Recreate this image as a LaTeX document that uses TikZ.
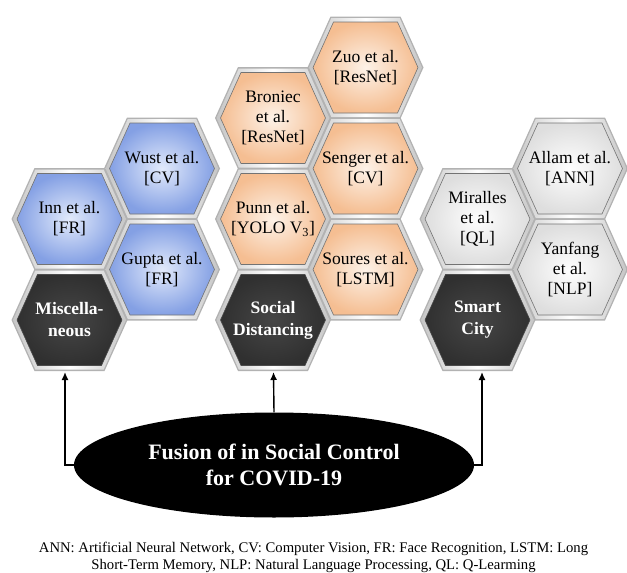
\documentclass[tikz,border=0pt]{standalone}
\usepackage{fontspec}
\setmainfont{Liberation Serif}
\usetikzlibrary{arrows.meta,shapes.geometric}
\definecolor{blueedge}{RGB}{132,160,228}
\definecolor{bluecenter}{RGB}{226,234,251}
\definecolor{orangeedge}{RGB}{245,190,146}
\definecolor{orangecenter}{RGB}{253,242,232}
\definecolor{whiteedge}{RGB}{222,222,222}
\definecolor{whitecenter}{RGB}{254,254,254}
\definecolor{darkedge}{RGB}{48,48,48}
\definecolor{darkcenter}{RGB}{70,70,70}
\tikzset{
  hexframe/.style={fill=gray!60},
  hexband/.style={left color=gray!45, right color=gray!45, middle color=white},
  bluecell/.style={draw=black!55, line width=0.6pt, inner color=bluecenter, outer color=blueedge},
  orangecell/.style={draw=black!55, line width=0.6pt, inner color=orangecenter, outer color=orangeedge},
  whitecell/.style={draw=black!55, line width=0.6pt, inner color=whitecenter, outer color=whiteedge},
  darkcell/.style={draw=black!70, line width=0.6pt, inner color=darkcenter, outer color=darkedge},
  celltext/.style={align=center, inner sep=0pt, text=black, font=\fontsize{17.5}{20}\selectfont},
  darktext/.style={align=center, inner sep=0pt, text=white, font=\bfseries\fontsize{17.5}{22}\selectfont},
  link/.style={line width=1.4pt, -{Latex[length=8pt,width=7pt]}},
}
\newcommand\hexcell[6]{%
  \path[hexframe] (#2,#3) +(-58,0) -- +(-35,51) -- +(35,51) -- +(58,0) -- +(35,-51) -- +(-35,-51) -- cycle;
  \path[hexband] (#2,#3) +(-56.5,0) -- +(-34.2,49.5) -- +(34.2,49.5) -- +(56.5,0) -- +(34.2,-49.5) -- +(-34.2,-49.5) -- cycle;
  \path[#4] (#2,#3) +(-52.5,0) -- +(-32,45.5) -- +(32,45.5) -- +(52.5,0) -- +(32,-45.5) -- +(-32,-45.5) -- cycle;
  \node[#5] (#1) at (#2,#3) {#6};
}
\begin{document}
\begin{tikzpicture}[x=1pt,y=-1pt]
\useasboundingbox (0,0) rectangle (627,573);
% Miscellaneous group
\hexcell{inn}{69.5}{219}{bluecell}{celltext}{Inn et al.\\{}[FR]}
\hexcell{wust}{162}{168.5}{bluecell}{celltext}{Wust et al.\\{}[CV]}
\hexcell{gupta}{162}{269.5}{bluecell}{celltext}{Gupta et al.\\{}[FR]}
\hexcell{misc}{69.5}{320}{darkcell}{darktext}{Miscella-\\neous}
% Social distancing group
\hexcell{broniec}{273}{118}{orangecell}{celltext}{Broniec\\et al.\\{}[ResNet]}
\hexcell{zuo}{365.5}{67.5}{orangecell}{celltext}{Zuo et al.\\{}[ResNet]}
\hexcell{senger}{365.5}{168.5}{orangecell}{celltext}{Senger et al.\\{}[CV]}
\hexcell{punn}{273}{219}{orangecell}{celltext}{Punn et al.\\{}[YOLO V\textsubscript{3}]}
\hexcell{soures}{365.5}{269.5}{orangecell}{celltext}{Soures et al.\\{}[LSTM]}
\hexcell{social}{273}{320}{darkcell}{darktext}{Social\\Distancing}
% Smart city group
\hexcell{miralles}{477.5}{219}{whitecell}{celltext}{Miralles\\et al.\\{}[QL]}
\hexcell{allam}{570}{168.5}{whitecell}{celltext}{Allam et al.\\{}[ANN]}
\hexcell{yanfang}{570}{269.5}{whitecell}{celltext}{Yanfang\\et al.\\{}[NLP]}
\hexcell{smart}{477.5}{320}{darkcell}{darktext}{Smart\\City}
% arrow targets
\coordinate (miscin) at (65,372);
\coordinate (socialin) at (273.5,372);
\coordinate (smartin) at (482,372);
% fusion ellipse
\node[ellipse, fill=black, minimum width=400pt, minimum height=105pt, inner sep=0pt,
      text=white, align=center, font=\bfseries\fontsize{22}{26}\selectfont] (fusion) at (274,465)
      {Fusion of in Social Control\\for COVID-19};
\draw[link] (fusion.west) -| (miscin);
\draw[link] (fusion.north) -- (socialin);
\draw[link] (fusion.east) -| (smartin);
% caption
\node[align=center, inner sep=0pt, font=\fontsize{14.7}{17}\selectfont] (caption) at (313.5,557)
  {ANN: Artificial Neural Network, CV: Computer Vision, FR: Face Recognition, LSTM: Long\\
   Short-Term Memory, NLP: Natural Language Processing, QL: Q-Learming};
\end{tikzpicture}
\end{document}
